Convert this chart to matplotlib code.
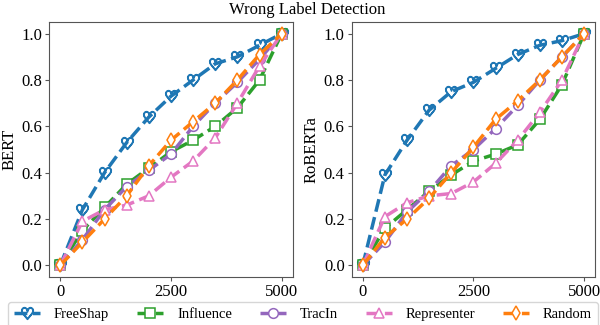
import numpy as np
import matplotlib.pyplot as plt

plt.rcParams['font.family'] = ['Liberation Serif', 'DejaVu Serif']

x = [0, 500, 1000, 1500, 2000, 2500, 3000, 3500, 4000, 4500, 5000]
methods = ['FreeShap', 'Influence', 'TracIn', 'Representer', 'Random']

bert = {
    'FreeShap':    [0, 0.24, 0.40, 0.53, 0.64, 0.73, 0.80, 0.87, 0.90, 0.95, 1.0],
    'Influence':   [0, 0.15, 0.25, 0.35, 0.42, 0.49, 0.54, 0.60, 0.68, 0.80, 1.0],
    'TracIn':      [0, 0.11, 0.24, 0.34, 0.41, 0.48, 0.60, 0.70, 0.79, 0.89, 1.0],
    'Representer': [0, 0.19, 0.24, 0.26, 0.30, 0.38, 0.45, 0.55, 0.70, 0.86, 1.0],
    'Random':      [0, 0.10, 0.20, 0.30, 0.43, 0.54, 0.62, 0.70, 0.80, 0.91, 1.0],
}
roberta = {
    'FreeShap':    [0, 0.39, 0.54, 0.67, 0.75, 0.79, 0.85, 0.91, 0.95, 0.97, 1.0],
    'Influence':   [0, 0.16, 0.24, 0.32, 0.39, 0.45, 0.48, 0.52, 0.63, 0.78, 1.0],
    'TracIn':      [0, 0.10, 0.23, 0.32, 0.43, 0.50, 0.59, 0.69, 0.80, 0.90, 1.0],
    'Representer': [0, 0.21, 0.27, 0.30, 0.31, 0.36, 0.44, 0.54, 0.66, 0.80, 1.0],
    'Random':      [0, 0.12, 0.20, 0.29, 0.40, 0.51, 0.63, 0.71, 0.80, 0.90, 1.0],
}

colors = {'FreeShap': '#1f77b4', 'Influence': '#2ca02c', 'TracIn': '#9467bd',
          'Representer': '#e377c2', 'Random': '#ff7f0e'}
markers = {'FreeShap': r'$\heartsuit$', 'Influence': 's', 'TracIn': 'o',
           'Representer': '^', 'Random': 'd'}

fig, axes = plt.subplots(1, 2, figsize=(6, 3.25), dpi=100)
fig.subplots_adjust(left=0.082, right=0.992, top=0.932, bottom=0.148, wspace=0.242)

for ax, data, name in zip(axes, [bert, roberta], ['BERT', 'RoBERTa']):
    for m in methods:
        ms = 8.5 if m == 'FreeShap' else 7
        ax.plot(x, data[m], linestyle='--', linewidth=2.5, color=colors[m],
                marker=markers[m], markersize=ms, markerfacecolor='white',
                markeredgecolor=colors[m], markeredgewidth=1.1, label=m)
    ax.set_ylabel(name, fontsize=12, labelpad=3)
    ax.set_xticks([0, 2500, 5000])
    ax.set_yticks([0, 0.2, 0.4, 0.6, 0.8, 1.0])
    ax.tick_params(labelsize=12, length=3, pad=2, color='#555555')
    for s in ax.spines.values():
        s.set_color('#555555')

fig.suptitle('Wrong Label Detection', fontsize=12, x=0.512, y=0.995)
handles, labels = axes[0].get_legend_handles_labels()
fig.legend(handles, labels, loc='upper center', bbox_to_anchor=(0.505, 0.071), ncol=5,
           fontsize=10.5, handlelength=1.8, columnspacing=1.9, handletextpad=0.95,
           frameon=True, edgecolor='#cccccc', borderaxespad=0)

fig.savefig('out.png', dpi=100)
